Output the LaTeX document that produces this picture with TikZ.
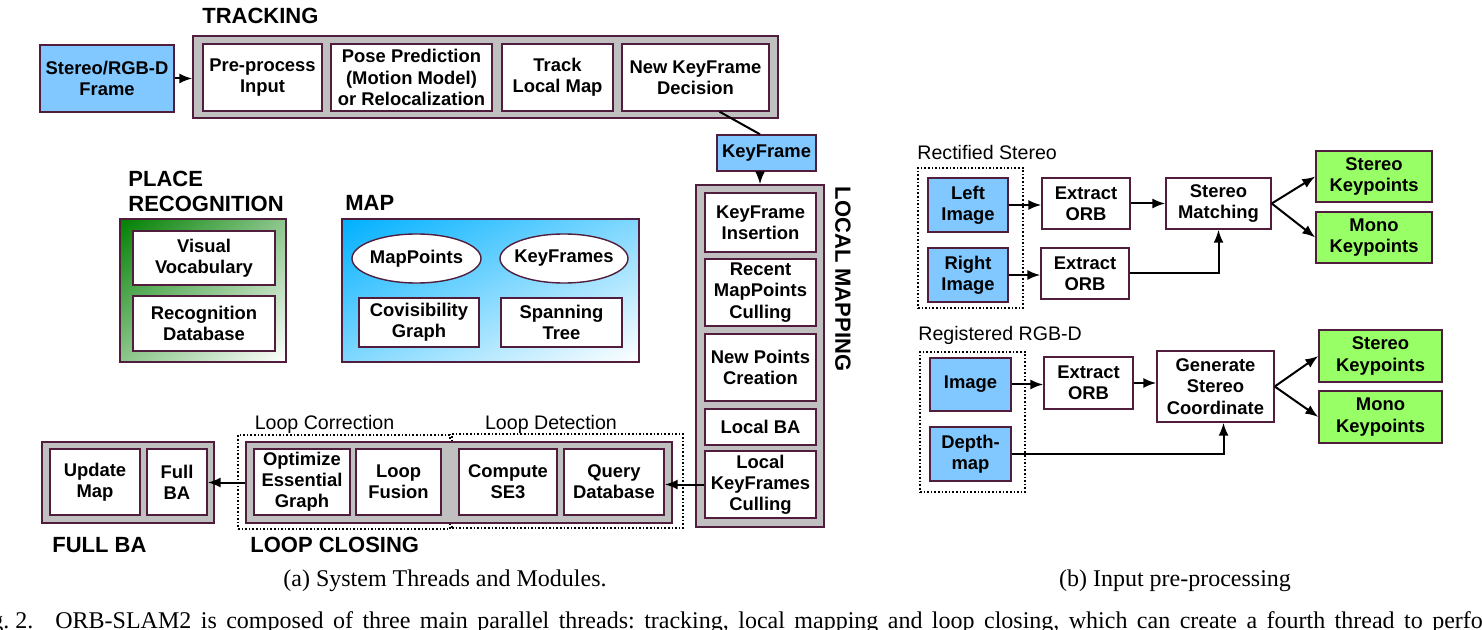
\documentclass[tikz,border=0pt]{standalone}
\usepackage{fontspec}
\setmainfont{Liberation Serif}
\setsansfont{Liberation Sans}
\usetikzlibrary{positioning, arrows.meta, calc, shapes.geometric, shadings}

\definecolor{edgec}{RGB}{80,30,60}
\definecolor{threadgray}{RGB}{192,192,192}
\definecolor{inblue}{RGB}{128,200,255}
\definecolor{kpgreen}{RGB}{153,255,102}
\definecolor{prgreen}{RGB}{0,128,0}
\definecolor{mapblue}{RGB}{0,176,255}

\newcommand{\blockfont}{\sffamily\bfseries\fontsize{9.2}{10.6}\selectfont}
\newcommand{\threadfont}{\sffamily\bfseries\fontsize{11}{12.5}\selectfont}

\tikzset{
	wh/.style 2 args={minimum width=#1*0.5pt, minimum height=#2*0.5pt},
	inbox/.style={draw=edgec, fill=white, line width=0.7pt, inner sep=1pt, align=center, font=\blockfont},
	inputbox/.style={inbox, fill=inblue},
	outbox/.style={inbox, fill=kpgreen},
	blob/.style={inbox, ellipse, inner sep=0pt},
	thread/.style={draw=edgec, fill=threadgray, line width=0.7pt},
	group/.style={draw, densely dotted, line width=0.8pt},
	title/.style={font=\threadfont, anchor=west, inner sep=0pt, align=left},
	sublabel/.style={font=\sffamily\fontsize{9.8}{12}\selectfont, inner sep=0pt},
	caption/.style={font=\fontsize{12}{14}\selectfont, inner sep=0pt},
	conn/.style={line width=1pt},
	flow/.style={conn, -{Latex[length=6.5pt, width=5pt]}},
}

\begin{document}
\begin{tikzpicture}[x=0.5pt, y=-0.5pt]
	\useasboundingbox (0,0) rectangle (1482,630);
	\clip (0,0) rectangle (1482,630);

	% tracking
	\node[title] (trktitle) at (202,16) {TRACKING};
	\node[inputbox, wh={134}{67}] (frame) at (107,78.5) {Stereo/RGB-D\\Frame};
	\node[thread, wh={585}{82}] (trk) at (485.5,77) {};
	\node[inbox, wh={119}{67}] (pre) at (262.5,77.5) {Pre-process\\Input};
	\node[inbox, wh={161}{67}] (pose) at (411.5,77.5) {Pose Prediction\\(Motion Model)\\or Relocalization};
	\node[inbox, wh={111}{67}] (tlm) at (557.5,77.5) {Track\\Local Map};
	\node[inbox, wh={147}{67}] (nkf) at (695.5,77.5) {New KeyFrame\\Decision};
	\node[inputbox, wh={99}{36}] (kf) at (766.5,153) {KeyFrame};
	\draw[flow] (frame.east) -- (frame.east -| trk.west);

	% local mapping
	\node[thread, wh={128}{342}] (lm) at (760,356) {};
	\node[inbox, wh={111}{59}] (kfi) at (760.5,222.5) {KeyFrame\\Insertion};
	\node[inbox, wh={111}{67}] (rmc) at (760.5,292.5) {Recent\\MapPoints\\Culling};
	\node[inbox, wh={111}{67}] (npc) at (760.5,367.5) {New Points\\Creation};
	\node[inbox, wh={111}{36}] (lba) at (760.5,427) {Local BA};
	\node[inbox, wh={111}{67}] (lkc) at (760.5,484.5) {Local\\KeyFrames\\Culling};
	\node[title, anchor=center, rotate=-90] (lmtitle) at (843,279) {LOCAL MAPPING};
	\draw[conn] ($(nkf.south)+(24,0)$) -- (kf.north -| lm.north);
	\draw[flow] (kf.south -| lm.north) -- (lm.north);

	% place recognition
	\node[title] (prtitle) at (128,191) {PLACE\\RECOGNITION};
	\node[draw=edgec, line width=0.7pt, shade, upper left=prgreen, upper right=prgreen!45!white, lower left=prgreen!45!white, lower right=white, wh={166}{143}] (pr) at (203,290.5) {};
	\node[inbox, wh={142}{54}] (vv) at (204,258) {Visual\\Vocabulary};
	\node[inbox, wh={142}{55}] (rd) at (204,323.5) {Recognition\\Database};

	% map
	\node[title] (maptitle) at (345,203) {MAP};
	\node[draw=edgec, line width=0.7pt, shade, upper left=mapblue, upper right=mapblue!50!white, lower left=mapblue!50!white, lower right=white, wh={297}{143}] (map) at (490.5,290.5) {};
	\node[blob, wh={129}{49}] (mp) at (416.5,258.5) {\makebox[0pt]{MapPoints}};
	\node[blob, wh={128}{49}] (kfs) at (564,258.5) {\makebox[0pt]{KeyFrames}};
	\node[inbox, wh={120}{49}] (cg) at (419,322.5) {Covisibility\\Graph};
	\node[inbox, wh={121}{49}] (st) at (561.5,322.5) {Spanning\\Tree};

	% loop closing
	\node[group, wh={212}{94}] (corr) at (344,482) {};
	\node[group, wh={231}{94}] (det) at (567.5,481) {};
	\node[sublabel] (corrlabel) at (324.5,424) {Loop Correction};
	\node[sublabel] (detlabel) at (551,424) {Loop Detection};
	\node[thread, wh={426}{81}] (lc) at (459,482.5) {};
	\node[inbox, wh={96}{66}] (oeg) at (302,482) {Optimize\\Essential\\Graph};
	\node[inbox, wh={85}{66}] (lf) at (398.5,482) {Loop\\Fusion};
	\node[inbox, wh={98}{66}] (cse) at (508,482) {Compute\\SE3};
	\node[inbox, wh={100}{66}] (qd) at (614,482) {Query\\Database};
	\node[title] (lctitle) at (250,545) {LOOP CLOSING};
	\draw[flow] (lkc.west) -- (lkc.west -| qd.east);

	% full ba
	\node[thread, wh={172}{81}] (fba) at (128,482.5) {};
	\node[inbox, wh={90}{66}] (um) at (95,482) {Update\\Map};
	\node[inbox, wh={60}{66}] (fb) at (177,482) {Full\\BA};
	\node[title] (fbatitle) at (52,545) {FULL BA};
	\draw[flow] (lc.west) -- (lc.west -| fb.east);

	% rectified stereo
	\node[sublabel, anchor=west] (rslabel) at (917,152) {Rectified Stereo};
	\node[group, wh={105}{140}] (rs) at (970.5,238) {};
	\node[inputbox, wh={80}{54}] (li) at (968,205) {Left\\Image};
	\node[inputbox, wh={80}{54}] (ri) at (968,275) {Right\\Image};
	\node[inbox, wh={88}{51}] (eo1) at (1086,203.5) {Extract\\ORB};
	\node[inbox, wh={88}{51}] (eo2) at (1085,273.5) {Extract\\ORB};
	\node[inbox, wh={105}{51}] (sm) at (1218.5,203.5) {Stereo\\Matching};
	\node[outbox, wh={116}{51}] (sk1) at (1374,176.5) {Stereo\\Keypoints};
	\node[outbox, wh={116}{51}] (mk1) at (1374,237.5) {Mono\\Keypoints};
	\draw[flow] (li.east) -- (li.east -| eo1.west);
	\draw[flow] (ri.east) -- (ri.east -| eo2.west);
	\draw[flow] (eo1.east) -- (sm.west);
	\draw[flow] (eo2.east) -| (sm.south);
	\draw[flow] (sm.east) -- (sk1.west);
	\draw[flow] (sm.east) -- (mk1.west);

	% registered rgb-d
	\node[sublabel, anchor=west] (rglabel) at (918,335) {Registered RGB-D};
	\node[group, wh={105}{140}] (rg) at (972.5,422) {};
	\node[inputbox, wh={81}{53}] (img) at (970.5,384.5) {Image};
	\node[inputbox, wh={81}{54}] (dm) at (970.5,454) {Depth-\\map};
	\node[inbox, wh={89}{52}] (eo3) at (1088.5,383) {Extract\\ORB};
	\node[inbox, wh={117}{71}] (gsc) at (1215.5,386.5) {Generate\\Stereo\\Coordinate};
	\node[outbox, wh={123}{52}] (sk2) at (1380.5,356) {Stereo\\Keypoints};
	\node[outbox, wh={123}{52}] (mk2) at (1380.5,417) {Mono\\Keypoints};
	\draw[flow] (img.east) -- (img.east -| eo3.west);
	\draw[flow] (eo3.east) -- (eo3.east -| gsc.west);
	\draw[flow] (dm.east) -| ($(gsc.south)+(8,0)$);
	\draw[flow] (gsc.east) -- (sk2.west);
	\draw[flow] (gsc.east) -- (mk2.west);

	% captions
	\node[caption] (capa) at (445,581) {(a) System Threads and Modules.};
	\node[caption] (capb) at (1175,581) {(b) Input pre-processing};
	\node[caption, anchor=base west] (capfig) at (55,628) {\frenchspacing\llap{Fig.~2.\hspace{11pt}}\makebox[727pt][s]{ORB-SLAM2 is composed of three main parallel threads: tracking, local mapping and loop closing, which can create a fourth thread to perform}};
\end{tikzpicture}
\end{document}
